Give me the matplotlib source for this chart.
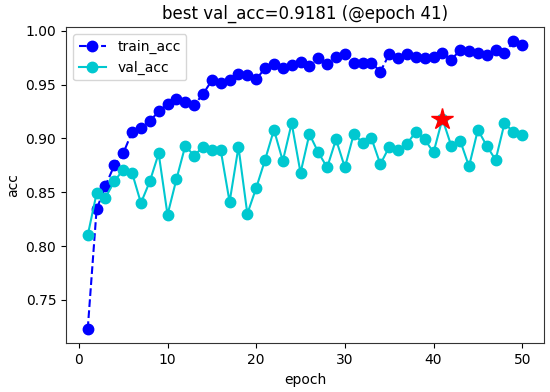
import numpy as np
import matplotlib
matplotlib.use("Agg")
import matplotlib.pyplot as plt

epochs = np.arange(1, 51)

train_acc = [0.723, 0.834, 0.856, 0.875, 0.886, 0.906, 0.910, 0.916, 0.925, 0.932,
             0.937, 0.934, 0.931, 0.941, 0.954, 0.951, 0.954, 0.960, 0.959, 0.955,
             0.965, 0.969, 0.965, 0.968, 0.971, 0.967, 0.975, 0.969, 0.976, 0.978,
             0.970, 0.970, 0.970, 0.962, 0.978, 0.975, 0.978, 0.976, 0.975, 0.976,
             0.979, 0.973, 0.982, 0.981, 0.979, 0.977, 0.982, 0.979, 0.990, 0.987]

val_acc = [0.810, 0.849, 0.845, 0.860, 0.871, 0.868, 0.840, 0.860, 0.886, 0.829,
           0.862, 0.893, 0.884, 0.892, 0.889, 0.889, 0.841, 0.892, 0.830, 0.854,
           0.880, 0.908, 0.879, 0.914, 0.868, 0.904, 0.887, 0.873, 0.899, 0.873,
           0.904, 0.896, 0.900, 0.876, 0.892, 0.889, 0.895, 0.906, 0.899, 0.887,
           0.9181, 0.893, 0.898, 0.874, 0.908, 0.893, 0.880, 0.914, 0.906, 0.903]

best_epoch = 41
best_val = 0.9181

fig = plt.figure(figsize=(5.5, 3.92), dpi=100)
ax = fig.add_axes([0.12, 0.124, 0.869, 0.807])

ax.plot(epochs, train_acc, 'o--', color='#0000ff', label='train_acc', markersize=7.5, linewidth=1.5)
ax.plot(epochs, val_acc, 'o-', color='#00c8d0', label='val_acc', markersize=7.5, linewidth=1.5)
ax.plot(best_epoch, best_val, 'r*', markersize=16)

ax.set_title(f'best val_acc={best_val} (@epoch {best_epoch})', fontsize=12)
ax.set_xlabel('epoch', fontsize=10)
ax.set_ylabel('acc', fontsize=10)
ax.tick_params(labelsize=10)
for s in ax.spines.values():
    s.set_color('#333333')
ax.legend(loc='upper left', fontsize=10)

fig.savefig('out.png', dpi=100)
